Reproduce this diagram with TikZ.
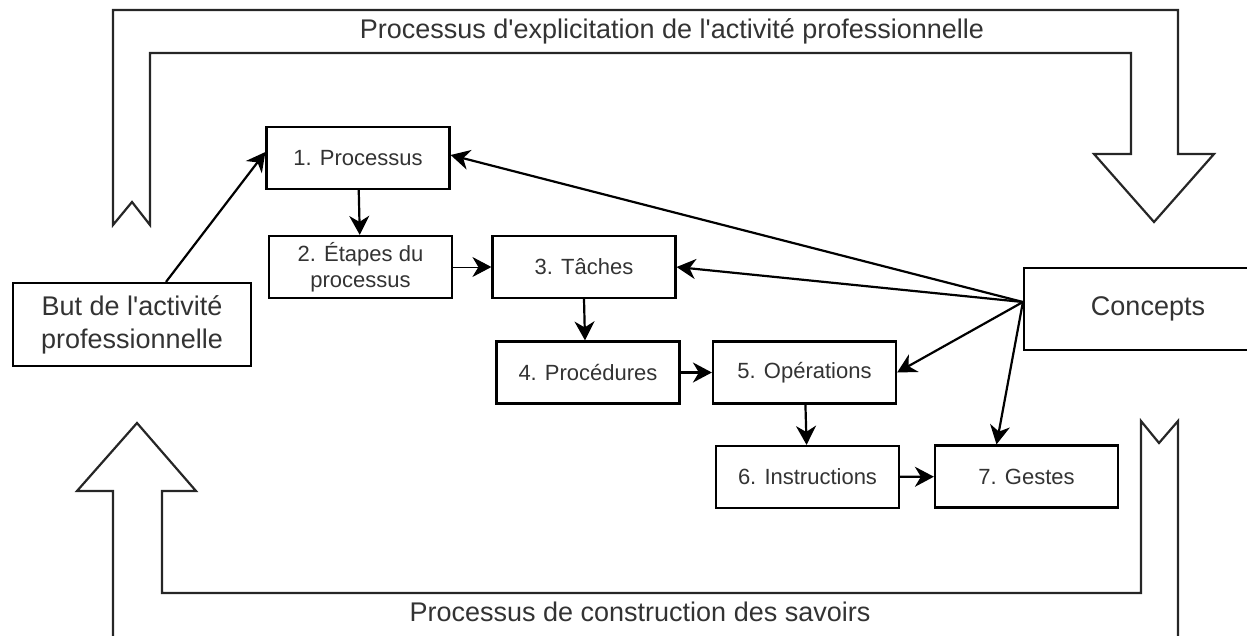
\documentclass[tikz,border=0pt]{standalone}
\usepackage{fontspec}
\setmainfont{Liberation Sans}[Ligatures=TeXOff]
\usepackage{tikz}
\usetikzlibrary{arrows.meta}

\begin{document}
\begin{tikzpicture}[x=1pt,y=-1pt,->,>={Stealth[length=19pt,width=20pt,inset=6pt]},
                    line width=2.2pt,font=\fontsize{22}{26}\selectfont]
  \tikzstyle{etape}=[draw=black,fill=white,text=black!80,minimum width=183pt,
                     minimum height=62pt,inner sep=0pt,align=center]
  \tikzstyle{grand}=[etape,font=\fontsize{27}{33}\selectfont]
  \tikzstyle{flux}=[-,draw=black!85,line width=2.2pt,line join=miter]
  \tikzstyle{legende}=[text=black!80,font=\fontsize{27}{33}\selectfont]

  \useasboundingbox (0,0) rectangle (1247,635);

  % grandes fleches
  \draw[flux] (113,225) -- (113,10) -- (1178,10) -- (1178,154) -- (1214,154)
        -- (1154,222) -- (1094,154) -- (1131,154) -- (1131,53) -- (150,53)
        -- (150,225) -- (132,202) -- cycle;
  \draw[flux] (113,645) -- (113,491) -- (77,491) -- (137,423) -- (196,491)
        -- (162,491) -- (162,593) -- (1141,593) -- (1141,421) -- (1159,443)
        -- (1178,421) -- (1178,645);
  \node[legende] (haut) at (672,31)  {Processus d'explicitation de l'activité professionnelle};
  \node[legende] (bas)  at (640,612) {Processus de construction des savoirs};

  \node[grand,minimum width=238pt,minimum height=83pt] (but) at (132,324.5)
        {But de l'activité\\professionnelle};
  \node[grand,minimum width=248pt,minimum height=82pt] (concepts) at (1148,309) {Concepts};

  \node[etape] (1) at (358,158)     {1. Processus};
  \node[etape] (2) at (360.5,267)   {2. Étapes du\\processus};
  \node[etape] (3) at (584,267)     {3. Tâches};
  \node[etape] (4) at (588,372.5)   {4. Procédures};
  \node[etape] (5) at (804.5,372.5) {5. Opérations};
  \node[etape] (6) at (807.5,477)   {6. Instructions};
  \node[etape] (7) at (1026.5,476.5){7. Gestes};

  \coordinate (src) at ([yshift=7pt]concepts.west);

  \path ([xshift=34pt]but.north) edge ([yshift=6pt]1.west)
        (1) edge (2)
        (2) edge [line width=1pt] (3)
        (3.south) edge ([xshift=-3pt]4.north)
        (4) edge (5)
        (5) edge (6)
        (6) edge (7)
        (src) edge ([yshift=3pt]1.east)
              edge (3.east)
              edge (5.east)
              edge ([xshift=-30pt]7.north);
\end{tikzpicture}
\end{document}
